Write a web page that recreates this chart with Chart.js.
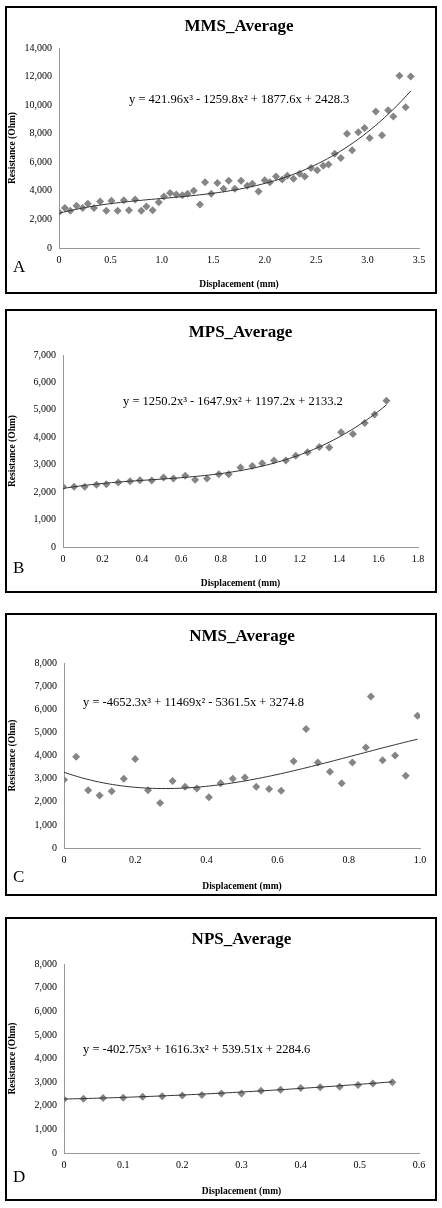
<!DOCTYPE html>
<html>
<head>
<meta charset="utf-8">
<script src="https://cdn.jsdelivr.net/npm/chart.js@4/dist/chart.umd.min.js"></script>
<style>
  body { margin: 0; background: #fff; width: 442px; height: 1208px; position: relative; overflow: hidden; }
  .panel { position: absolute; border: 2px solid #000; box-sizing: border-box; background: #fff; }
  .panel canvas { position: absolute; left: 0; top: 0; }
</style>
</head>
<body>
<div class="panel" id="pA" style="left:5px;top:6px;width:432px;height:288px"><canvas id="cA"></canvas></div>
<div class="panel" id="pB" style="left:5px;top:309px;width:432px;height:284px"><canvas id="cB"></canvas></div>
<div class="panel" id="pC" style="left:5px;top:613px;width:432px;height:283px"><canvas id="cC"></canvas></div>
<div class="panel" id="pD" style="left:5px;top:917px;width:432px;height:284px"><canvas id="cD"></canvas></div>
<script>
// MMS
const mmsX = [0,0.057,0.11,0.17,0.23,0.28,0.34,0.4,0.46,0.51,0.57,0.63,0.68,0.74,0.8,0.85,0.91,0.97,1.02,1.08,1.14,1.2,1.25,1.31,1.37,1.42,1.48,1.54,1.6,1.65,1.71,1.77,1.83,1.88,1.94,2.0,2.05,2.11,2.17,2.22,2.28,2.34,2.39,2.45,2.51,2.57,2.62,2.68,2.74,2.8,2.85,2.91,2.97,3.02,3.08,3.14,3.2,3.25,3.31,3.37,3.42];
const mmsY = [2500,2800,2600,2950,2800,3100,2800,3250,2600,3300,2600,3350,2650,3400,2600,2900,2650,3200,3600,3850,3750,3700,3800,4000,3050,4600,3800,4550,4150,4700,4150,4700,4350,4500,3950,4750,4600,5000,4800,5050,4850,5200,5000,5600,5450,5750,5850,6600,6300,8000,6850,8100,8400,7700,9550,7900,9650,9200,12050,9850,12000];
const mmsCoef = [421.96, -1259.8, 1877.6, 2428.3];
// MPS
const mpsX = [0,0.056,0.11,0.17,0.22,0.28,0.34,0.39,0.45,0.51,0.56,0.62,0.67,0.73,0.79,0.84,0.9,0.96,1.01,1.07,1.13,1.18,1.24,1.3,1.35,1.41,1.47,1.53,1.58,1.64];
const mpsY = [2200,2200,2200,2270,2290,2350,2400,2430,2420,2530,2500,2600,2450,2500,2650,2650,2900,2950,3050,3150,3150,3330,3450,3650,3630,4180,4120,4520,4830,5330];
const mpsCoef = [1250.2, -1647.9, 1197.2, 2133.2];
// NMS
const nmsX = [0,0.034,0.068,0.1,0.134,0.168,0.2,0.236,0.27,0.305,0.34,0.373,0.407,0.44,0.474,0.508,0.54,0.576,0.61,0.645,0.68,0.713,0.747,0.78,0.81,0.848,0.862,0.895,0.93,0.96,0.993];
const nmsY = [2950,3950,2500,2270,2450,3000,3850,2500,1950,2900,2650,2570,2200,2800,3000,3050,2650,2550,2480,3750,5150,3700,3300,2800,3700,4350,6550,3800,4000,3120,5720];
const nmsCoef = [-4652.3, 11469, -5361.5, 3274.8];
// NPS
const npsX = [0,0.033,0.066,0.1,0.133,0.166,0.2,0.233,0.266,0.3,0.333,0.366,0.4,0.433,0.466,0.497,0.522,0.555];
const npsY = [2270,2300,2330,2340,2380,2400,2430,2460,2520,2520,2640,2680,2750,2780,2800,2880,2940,2990];
const npsCoef = [-402.75, 1616.3, 539.51, 2284.6];

function trend(coef, x0, x1) {
    const pts = [];
    for (let i = 0; i <= 80; i++) {
        const x = x0 + (x1 - x0) * i / 80;
        pts.push({ x: x, y: ((coef[0] * x + coef[1]) * x + coef[2]) * x + coef[3] });
    }
    return pts;
}

const serif = '"Liberation Serif", "DejaVu Serif", serif';

function makePanel(id, o) {
    const panel = document.getElementById('p' + id);
    const w = panel.clientWidth, h = panel.clientHeight;
    const cv = document.getElementById('c' + id);
    cv.width = w; cv.height = h;
    cv.style.width = w + 'px'; cv.style.height = h + 'px';
    const deco = {
        id: 'deco',
        afterDraw(chart) {
            const c = chart.ctx, a = chart.chartArea;
            c.save();
            c.fillStyle = '#000';
            c.textAlign = 'center'; c.textBaseline = 'middle';
            c.font = 'bold 17px ' + serif;
            c.fillText(o.title, (a.left + a.right) / 2, o.titleY);
            c.font = '12.5px ' + serif;
            c.textAlign = 'left';
            c.fillText(o.eq, o.eqX, o.eqY);
            c.font = '17px ' + serif;
            c.fillText(id, 6, o.letterY);
            c.restore();
        }
    };
    const xs = o.x, ys = o.y;
    new Chart(cv, {
        type: 'scatter',
        data: {
            datasets: [{
                data: xs.map((x, i) => ({ x: x, y: ys[i] })),
                pointStyle: 'rectRot', pointRadius: 4, pointBackgroundColor: '#858585',
                pointBorderColor: '#858585', pointBorderWidth: 0, order: 2
            }, {
                type: 'line',
                data: trend(o.coef, xs[0], xs[xs.length - 1]),
                borderColor: '#333', borderWidth: 1, pointRadius: 0, tension: 0, order: 1
            }]
        },
        options: {
            responsive: false, animation: false, devicePixelRatio: 1,
            layout: { padding: { top: o.top, right: o.right, left: 0, bottom: 0 } },
            plugins: { legend: { display: false }, tooltip: { enabled: false } },
            scales: {
                x: {
                    type: 'linear', min: 0, max: o.xMax,
                    ticks: { stepSize: o.xStep, color: '#000', font: { family: serif, size: 10 }, padding: 2 },
                    grid: { display: false, drawTicks: true, tickLength: 4 },
                    border: { color: '#999' },
                    title: { display: true, text: 'Displacement (mm)', color: '#000', font: { family: serif, size: 9.5, weight: 'bold' }, padding: 2 },
                    afterFit: s => { s.height = o.bottom; }
                },
                y: {
                    min: 0, max: o.yMax,
                    ticks: { stepSize: o.yStep, color: '#000', font: { family: serif, size: 10 }, padding: 3 },
                    grid: { display: false, tickLength: 4 },
                    border: { color: '#999' },
                    title: { display: true, text: 'Resistance (Ohm)', color: '#000', font: { family: serif, size: 9.5, weight: 'bold' }, padding: 0 },
                    afterFit: s => { s.width = o.left; }
                }
            }
        },
        plugins: [deco]
    });
}

makePanel('A', { x: mmsX, y: mmsY, coef: mmsCoef, xMax: 3.5, xStep: 0.5, yMax: 14000, yStep: 2000,
    left: 52, right: 16, top: 40, bottom: 44, title: 'MMS_Average', titleY: 19,
    eq: 'y = 421.96x\u00b3 - 1259.8x\u00b2 + 1877.6x + 2428.3', eqX: 122, eqY: 92, letterY: 260 });
makePanel('B', { x: mpsX, y: mpsY, coef: mpsCoef, xMax: 1.8, xStep: 0.2, yMax: 7000, yStep: 1000,
    left: 56, right: 17, top: 44, bottom: 44, title: 'MPS_Average', titleY: 22,
    eq: 'y = 1250.2x\u00b3 - 1647.9x\u00b2 + 1197.2x + 2133.2', eqX: 116, eqY: 91, letterY: 258 });
makePanel('C', { x: nmsX, y: nmsY, coef: nmsCoef, xMax: 1, xStep: 0.2, yMax: 8000, yStep: 1000,
    left: 57, right: 15, top: 48, bottom: 46, title: 'NMS_Average', titleY: 22,
    eq: 'y = -4652.3x\u00b3 + 11469x\u00b2 - 5361.5x + 3274.8', eqX: 76, eqY: 88, letterY: 263 });
makePanel('D', { x: npsX, y: npsY, coef: npsCoef, xMax: 0.6, xStep: 0.1, yMax: 8000, yStep: 1000,
    left: 57, right: 16, top: 45, bottom: 46, title: 'NPS_Average', titleY: 21,
    eq: 'y = -402.75x\u00b3 + 1616.3x\u00b2 + 539.51x + 2284.6', eqX: 76, eqY: 131, letterY: 259 });
</script>
</body>
</html>
